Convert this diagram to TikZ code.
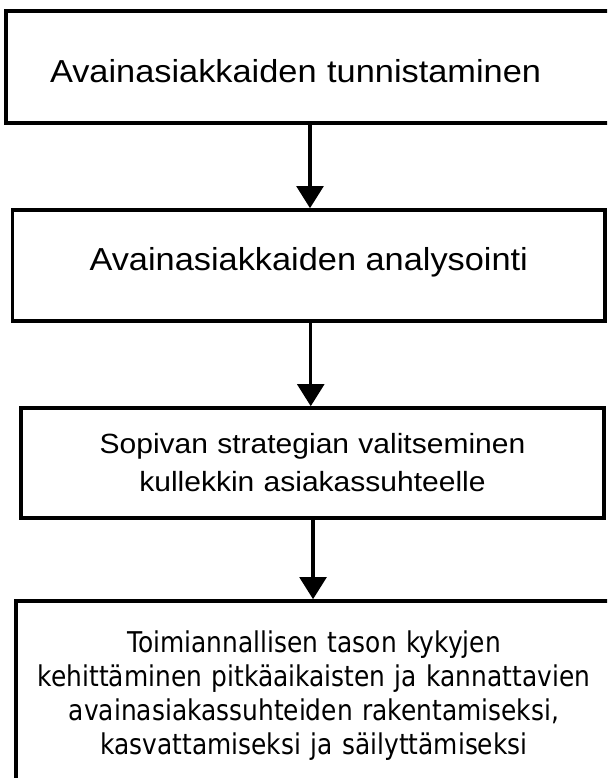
\documentclass[tikz,border=0pt]{standalone}
\usepackage{fontspec}
\usetikzlibrary{arrows.meta}
\newfontfamily\arialx[FakeStretch=1.08]{Liberation Sans}
\newfontfamily\tahomax[FakeStretch=0.87]{DejaVu Sans}
\tikzset{
  stagebox/.style={draw=black, fill=white, line width=2.7pt, rectangle, inner ysep=0pt},
  flowarrow/.style={line width=2.5pt, -{Triangle[width=20pt,length=16.5pt]}},
}
\begin{document}
\begin{tikzpicture}[x=0.75pt, y=-0.75pt]
  \useasboundingbox (0,0) rectangle (607,778);
  \clip (0,0) rectangle (607,778);
  \fill[white] (0,0) rectangle (607,778);

  % step 1: left-aligned title
  \node[stagebox, line width=3.4pt, inner xsep=33pt, text width=390pt, align=left,
        minimum height=84pt, text height=22.5pt, text depth=0pt,
        font=\arialx\fontsize{23.85}{28}\selectfont]
    (b1) at (310,67) {Avainasiakkaiden tunnistaminen};

  % step 2
  \node[stagebox, minimum width=444.4pt, minimum height=83.25pt,
        text height=17.25pt, text depth=10.5pt,
        font=\arialx\fontsize{23.85}{28}\selectfont]
    (b2) at (308.75,265.5) {Avainasiakkaiden analysointi};

  % step 3
  \node[stagebox, minimum width=437.25pt, minimum height=82.5pt,
        text width=400pt, align=center,
        font=\arialx\fontsize{20.85}{28.5}\selectfont]
    (b3) at (312.5,463) {Sopivan strategian valitseminen\\kullekkin asiakassuhteelle};

  % step 4
  \node[stagebox, minimum width=447pt, minimum height=141.75pt,
        text width=430pt, align=center,
        font=\tahomax\fontsize{21.45}{25.5}\selectfont]
    (b4) at (314,695.5) {Toimiannallisen tason kykyjen\\kehittäminen pitkäaikaisten ja kannattavien\\avainasiakassuhteiden rakentamiseksi,\\kasvattamiseksi ja säilyttämiseksi};

  % connectors
  \draw[flowarrow] (b1.south) -- (b1.south |- b2.north);
  \draw[flowarrow] ([xshift=1.5pt]b2.south) -- ([xshift=1.5pt]b2.south |- b3.north);
  \draw[flowarrow] ([xshift=0.4pt]b3.south) -- ([xshift=0.4pt]b3.south |- b4.north);
\end{tikzpicture}
\end{document}
